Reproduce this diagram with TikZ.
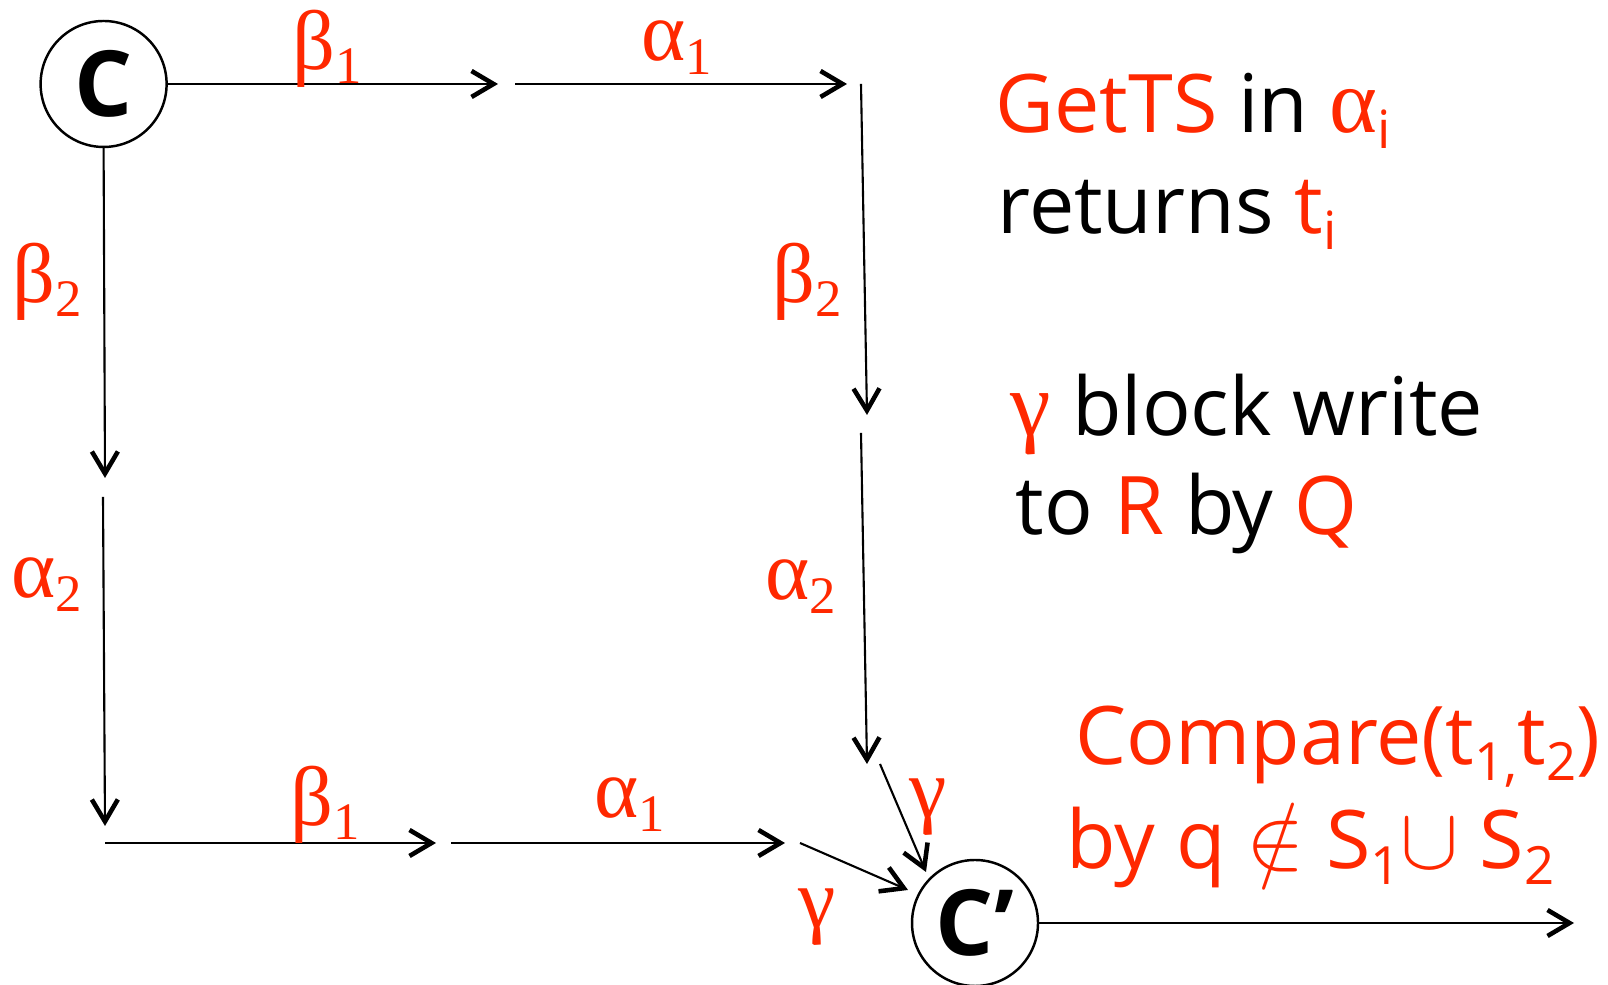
\documentclass[tikz,border=0pt]{standalone}
\usepackage{fontspec}
\setmainfont{Open Sans}
\newfontfamily\grkfont{Liberation Serif}
\usetikzlibrary{arrows.meta,positioning}
\definecolor{lblred}{RGB}{255,40,0}
\newcommand{\lowsub}[1]{\raisebox{-4.5pt}{\fontsize{15}{15}\selectfont #1}}
\newcommand{\grk}[2]{{\grkfont #1\raisebox{-4pt}{\fontsize{15}{15}\selectfont #2}}}
\newcommand{\bigsym}[1]{{\fontsize{25}{25}\selectfont$#1$}}

\begin{document}
\begin{tikzpicture}[
  x=1cm,y=1cm,
  state/.style={draw,circle,line width=.7pt,minimum size=1.26cm,inner sep=0pt,
    font=\fontsize{26}{26}\selectfont\bfseries},
  arr/.style={-{Straight Barb[length=2.2mm,width=2.6mm,line width=1.3pt]},
    line width=.6pt},
  lbl/.style={text=lblred,inner sep=0pt,font=\fontsize{24}{24}\selectfont},
  note/.style={anchor=base west,inner sep=0pt,font=\fontsize{23}{27}\selectfont}]
  \path[use as bounding box] (0,0) rectangle (16.08,9.85);

  % States.
  \node[state] (c) at (1.036,9.01) {C};
  \node[state] (cp) at (9.75,0.62) {C'};

  % Top row: beta_1 then alpha_1.
  \coordinate (t1) at (4.98,9.01);
  \coordinate (t2) at (5.15,9.01);
  \coordinate (t3) at (8.47,9.01);
  \draw[arr] (c.east) -- (t1);
  \draw[arr] (t2) -- (t3);
  \node[lbl] (tb1) at (3.27,9.36) {\grk{β}{1}};
  \node[lbl] (ta1) at (6.77,9.37) {\grk{α}{1}};

  % Right column: beta_2 then alpha_2.
  \coordinate (r0) at (8.61,9.01);
  \coordinate (r1) at (8.67,5.70);
  \coordinate (r2) at (8.61,5.52);
  \coordinate (r3) at (8.67,2.21);
  \draw[arr] (r0) -- (r1);
  \draw[arr] (r2) -- (r3);
  \node[lbl] (rb2) at (8.07,7.03) {\grk{β}{2}};
  \node[lbl] (ra2) at (8.01,3.98) {\grk{α}{2}};

  % Left column: beta_2 then alpha_2.
  \coordinate (l1) at (1.05,5.07);
  \coordinate (l2) at (1.03,4.88);
  \coordinate (l3) at (1.05,1.59);
  \draw[arr] (c.south) -- (l1);
  \draw[arr] (l2) -- (l3);
  \node[lbl] (lb2) at (0.47,7.03) {\grk{β}{2}};
  \node[lbl] (la2) at (0.47,4.00) {\grk{α}{2}};

  % Bottom row: beta_1 then alpha_1.
  \coordinate (b0) at (1.05,1.42);
  \coordinate (b1) at (4.36,1.42);
  \coordinate (b2) at (4.51,1.42);
  \coordinate (b3) at (7.85,1.42);
  \draw[arr] (b0) -- (b1);
  \draw[arr] (b2) -- (b3);
  \node[lbl] (bb1) at (3.25,1.80) {\grk{β}{1}};
  \node[lbl] (ba1) at (6.30,1.80) {\grk{α}{1}};

  % Block writes gamma into C'.
  \coordinate (g0) at (8.80,2.21);
  \coordinate (g1) at (9.26,1.13);
  \coordinate (h0) at (8.00,1.42);
  \coordinate (h1) at (9.08,0.95);
  \draw[arr] (g0) -- (g1);
  \draw[arr] (h0) -- (h1);
  \node[lbl] (gu) at (9.28,1.78) {{\grkfont γ}};
  \node[lbl] (gl) at (8.17,0.68) {{\grkfont γ}};
  \coordinate (out) at (15.74,0.62);
  \draw[arr] (cp.east) -- (out);

  % Notes on the right.
  \node[note] (n1) at (9.95,8.52)
    {\textcolor{lblred}{GetTS} in \textcolor{lblred}{{\grkfont\fontsize{26}{26}\selectfont α}\lowsub{i}}};
  \node[note] (n2) at (9.97,7.51)
    {returns \textcolor{lblred}{t\lowsub{i}}};
  \node[note] (n3) at (10.10,5.49)
    {\textcolor{lblred}{{\grkfont\fontsize{26}{26}\selectfont γ}} block write};
  \node[note] (n4) at (10.15,4.50)
    {to \textcolor{lblred}{R} by \textcolor{lblred}{Q}};
  \node[note,text=lblred] (n5) at (10.75,2.20)
    {Compare(t\lowsub{1,}t\lowsub{2})};
  \node[note,text=lblred] (n6) at (10.66,1.16)
    {by q \bigsym{\notin} S\lowsub{1}\bigsym{\cup} S\lowsub{2}};
\end{tikzpicture}
\end{document}
